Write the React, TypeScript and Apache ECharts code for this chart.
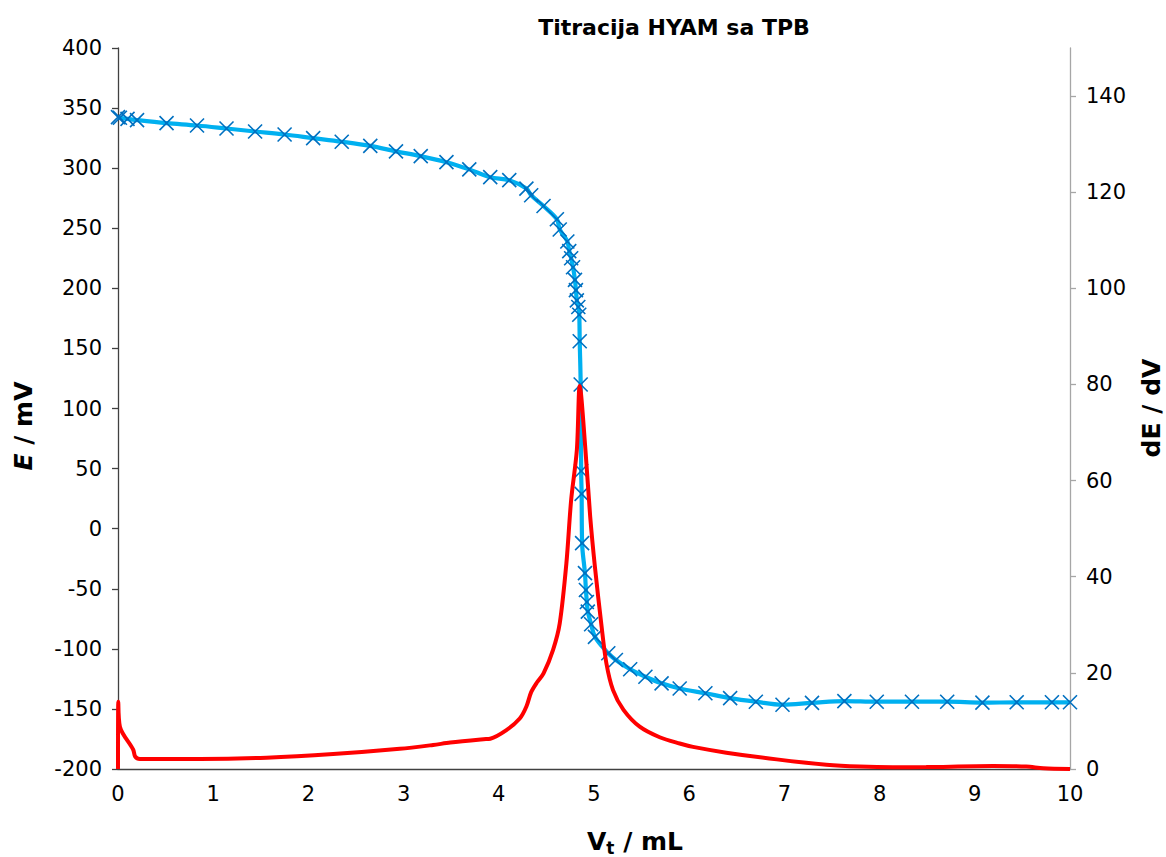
import React, { useEffect, useRef } from 'react';
import * as echarts from 'echarts';

// Blue: E / mV vs V_t / mL (primary axis)
const vBlue = [0, 0.02, 0.1, 0.2, 0.51, 0.83, 1.14, 1.44, 1.75, 2.05, 2.35, 2.65, 2.92, 3.18, 3.45, 3.69, 3.91, 4.11, 4.29, 4.34, 4.47, 4.61, 4.64, 4.72, 4.74, 4.76, 4.78, 4.8, 4.81, 4.82, 4.835, 4.845, 4.85, 4.86, 4.865, 4.87, 4.875, 4.905, 4.915, 4.925, 4.935, 4.97, 5.01, 5.15, 5.23, 5.38, 5.54, 5.71, 5.9, 6.17, 6.43, 6.7, 6.98, 7.29, 7.63, 7.97, 8.34, 8.71, 9.08, 9.44, 9.81, 10.0];
const eBlue = [342.5, 342, 341, 340, 337.5, 335.5, 333, 330.5, 328, 325, 322, 318.5, 314, 310, 305, 299, 292.5, 290, 283, 277.5, 268.5, 257.5, 249, 239, 231, 225, 217.5, 207, 198.5, 190, 184.5, 178, 156, 120, 48, 29, -12, -37, -51, -61, -69, -79.5, -90, -103.7, -109.3, -117, -123.2, -128.7, -133, -137, -141, -144, -146.5, -145, -143.5, -144, -144, -144, -144.8, -144.5, -144.5, -144.5];

// Red: dE / dV (secondary axis)
const vRed = [0, 0.003, 0.02, 0.16, 0.18, 0.23, 0.86, 1.56, 2.26, 2.96, 3.31, 3.49, 3.84, 3.91, 4.08, 4.22, 4.29, 4.34, 4.4, 4.47, 4.57, 4.64, 4.71, 4.76, 4.82, 4.85, 4.91, 4.96, 5.01, 5.08, 5.13, 5.2, 5.31, 5.48, 5.69, 5.9, 6.04, 6.39, 6.92, 7.44, 7.79, 8.14, 8.49, 9.19, 9.54, 9.72, 10];
const dRed = [0, 14, 8.8, 4, 2.6, 2.1, 2.1, 2.35, 3.1, 4.2, 5, 5.5, 6.2, 6.3, 8.1, 10.5, 13, 16, 18, 19.9, 24.8, 30.3, 42.8, 56, 66.4, 79.7, 66.4, 52.5, 42, 29.6, 22, 16.4, 12.3, 8.8, 6.6, 5.3, 4.6, 3.4, 2, 0.9, 0.5, 0.35, 0.4, 0.6, 0.5, 0.15, 0];

const title = 'Titracija HYAM sa TPB';
const FONT = '"DejaVu Sans", Arial, sans-serif';

export default function App() {
  const ref = useRef<HTMLDivElement>(null);
  useEffect(() => {
    const chart = echarts.init(ref.current!, null, { renderer: 'svg' });
    chart.setOption({
      animation: false,
      backgroundColor: '#ffffff',
      grid: { left: 118, right: 96, top: 48, bottom: 88, containLabel: false },
      xAxis: {
        type: 'value', min: 0, max: 10, interval: 1,
        axisLine: { show: true, onZero: false, lineStyle: { color: '#404040', width: 1.3 } },
        axisTick: { show: false },
        splitLine: { show: false },
        axisLabel: { fontSize: 21, color: '#000', margin: 14, fontFamily: FONT },
      },
      yAxis: [
        {
          type: 'value', min: -200, max: 400, interval: 50, position: 'left',
          axisLine: { show: true, onZero: false, lineStyle: { color: '#404040', width: 1.3 } },
          axisTick: { show: true, length: 6, lineStyle: { color: '#404040', width: 1.3 } },
          splitLine: { show: false },
          axisLabel: { fontSize: 21, color: '#000', margin: 16, fontFamily: FONT },
        },
        {
          type: 'value', min: 0, max: 150, interval: 20, position: 'right',
          axisLine: { show: true, onZero: false, lineStyle: { color: '#A6A6A6', width: 1.3 } },
          axisTick: { show: true, length: 6, lineStyle: { color: '#A6A6A6', width: 1.3 } },
          splitLine: { show: false },
          axisLabel: { fontSize: 21, color: '#000', margin: 16, fontFamily: FONT, showMaxLabel: false },
        },
      ],
      series: [
        {
          type: 'line', xAxisIndex: 0, yAxisIndex: 0,
          data: vBlue.map((v, i) => [v, eBlue[i]]),
          smooth: 0.35,
          symbol: 'path://M0,0L10,10M10,0L0,10',
          symbolSize: 14,
          showAllSymbol: true,
          lineStyle: { color: '#00B0F0', width: 4.2 },
          itemStyle: { color: 'rgba(0,0,0,0)', borderColor: '#0070C0', borderWidth: 1.6 },
          z: 2,
        },
        {
          type: 'line', xAxisIndex: 0, yAxisIndex: 1,
          data: vRed.map((v, i) => [v, dRed[i]]),
          smooth: 0.3,
          symbol: 'none',
          lineStyle: { color: '#FF0000', width: 4 },
          z: 3,
        },
      ],
      graphic: [
        {
          type: 'text', x: 674, y: 27,
          style: { text: title, fontSize: 22, fontWeight: 'bold', fontFamily: FONT, fill: '#000', align: 'center', verticalAlign: 'middle' },
        },
        {
          type: 'text', x: 23, y: 426, rotation: Math.PI / 2,
          style: {
            text: '{i|E}{b| / mV}', align: 'center', verticalAlign: 'middle',
            rich: {
              i: { fontSize: 25, fontWeight: 'bold', fontStyle: 'italic', fontFamily: FONT, fill: '#000' },
              b: { fontSize: 25, fontWeight: 'bold', fontFamily: FONT, fill: '#000' },
            },
          },
        },
        {
          type: 'text', x: 1151, y: 408, rotation: Math.PI / 2,
          style: { text: 'dE / dV', fontSize: 25, fontWeight: 'bold', fontFamily: FONT, fill: '#000', align: 'center', verticalAlign: 'middle' },
        },
        {
          type: 'text', x: 635, y: 841,
          style: {
            text: '{b|V}{s|t}{b| / mL}', align: 'center', verticalAlign: 'middle',
            rich: {
              b: { fontSize: 25, fontWeight: 'bold', fontFamily: FONT, fill: '#000', lineHeight: 30 },
              s: { fontSize: 17, fontWeight: 'bold', fontFamily: FONT, fill: '#000', lineHeight: 14, verticalAlign: 'bottom' },
            },
          },
        },
      ],
    });
    return () => chart.dispose();
  }, []);
  return <div ref={ref} style={{ position: 'fixed', left: 0, top: 0, width: 1166, height: 857, background: '#fff' }} />;
}
